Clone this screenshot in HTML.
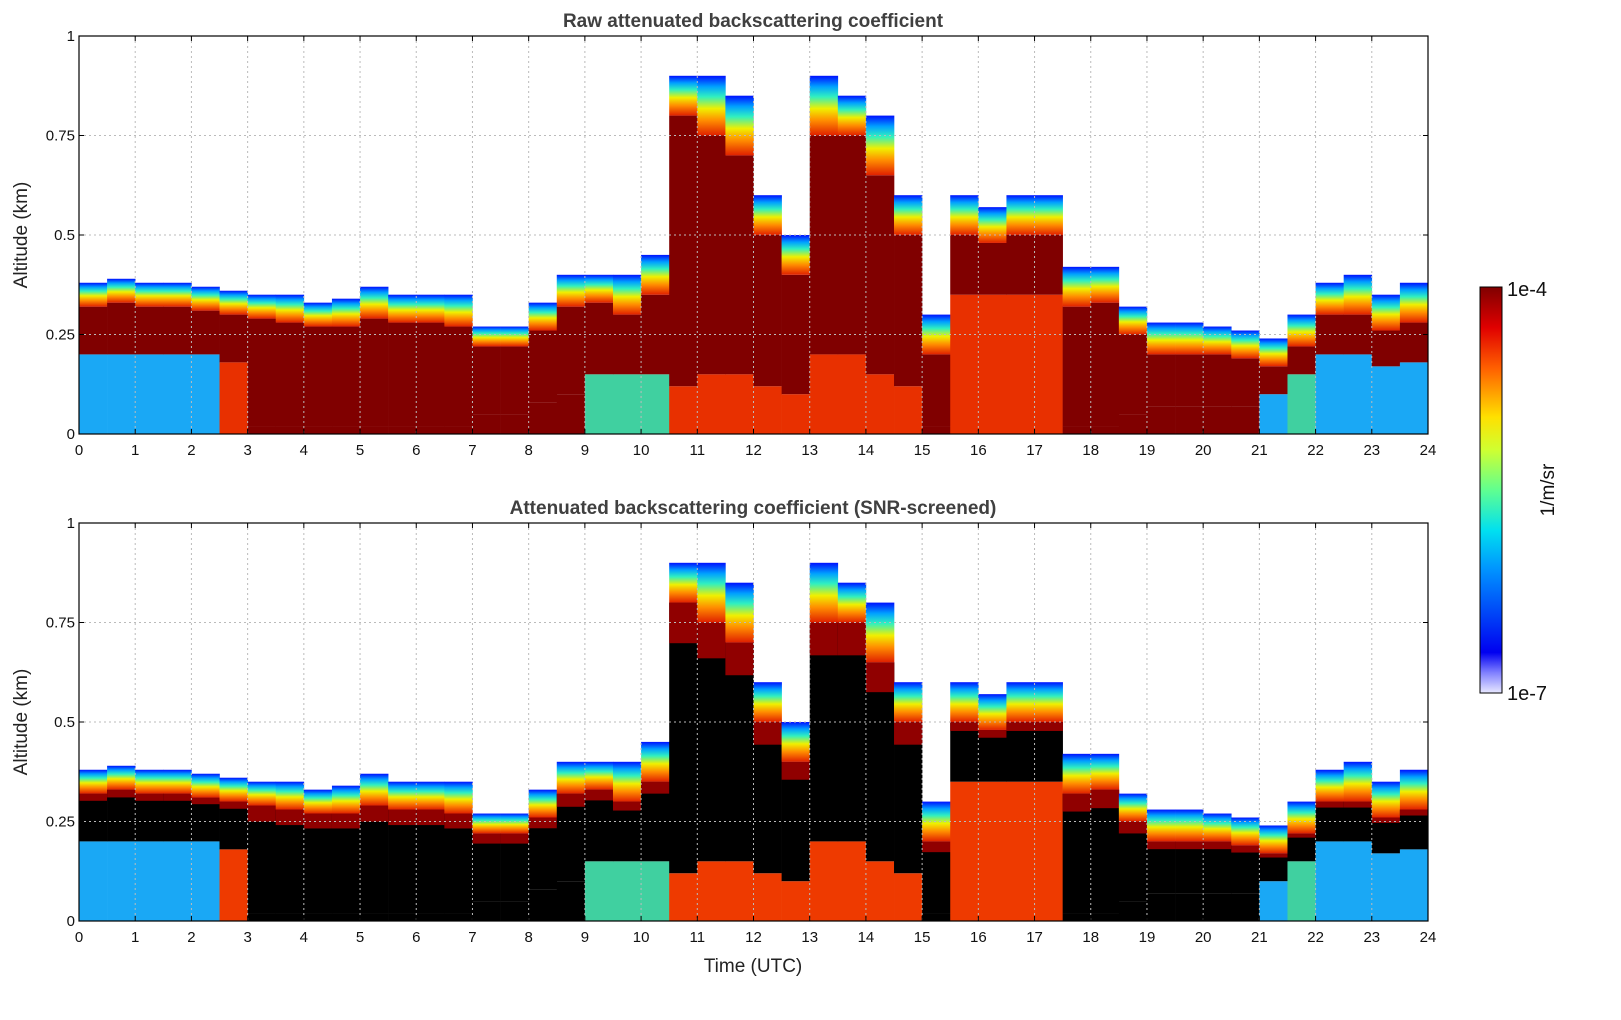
<!DOCTYPE html>
<html><head><meta charset="utf-8"><style>
html,body{margin:0;padding:0;width:1621px;height:1020px;overflow:hidden;background:#fff;font-family:"Liberation Sans","DejaVu Sans",sans-serif;}
svg{display:block;position:absolute;left:0;top:0}
</style></head><body>
<svg id="fig" width="1621" height="1020" viewBox="0 0 1621 1020" xmlns="http://www.w3.org/2000/svg">
<defs>
<linearGradient id="fringe" x1="0" y1="1" x2="0" y2="0">
<stop offset="0" stop-color="#e02000"/><stop offset="0.25" stop-color="#ff8c00"/><stop offset="0.45" stop-color="#f0f000"/><stop offset="0.65" stop-color="#30f0c0"/><stop offset="0.82" stop-color="#00a0ff"/><stop offset="1" stop-color="#0010ff"/>
</linearGradient>
<linearGradient id="cbar" x1="0" y1="1" x2="0" y2="0">
<stop offset="0" stop-color="#e8e8ff"/><stop offset="0.05" stop-color="#8080ff"/><stop offset="0.1" stop-color="#0000f0"/><stop offset="0.3" stop-color="#0090ff"/><stop offset="0.4" stop-color="#00e0f0"/><stop offset="0.5" stop-color="#60ff90"/><stop offset="0.6" stop-color="#d0ff30"/><stop offset="0.68" stop-color="#ffe000"/><stop offset="0.8" stop-color="#ff6000"/><stop offset="0.9" stop-color="#e00000"/><stop offset="1" stop-color="#800000"/>
</linearGradient>
</defs>
<g id="panels"></g>
<text x="753" y="27" text-anchor="middle" font-size="19" font-weight="bold" fill="#404040">Raw attenuated backscattering coefficient</text>
<text x="753" y="514" text-anchor="middle" font-size="19" font-weight="bold" fill="#404040">Attenuated backscattering coefficient (SNR-screened)</text>
<text x="753" y="972" text-anchor="middle" font-size="19" fill="#222">Time (UTC)</text>
<text transform="translate(27,235) rotate(-90)" text-anchor="middle" font-size="19" fill="#222">Altitude (km)</text>
<text transform="translate(27,722) rotate(-90)" text-anchor="middle" font-size="19" fill="#222">Altitude (km)</text>
<g>
<rect x="1480" y="287" width="22" height="406" fill="url(#cbar)" stroke="#000" stroke-width="1"/>
<text x="1507" y="296" font-size="20" fill="#111">1e-4</text>
<text x="1507" y="700" font-size="20" fill="#111">1e-7</text>
<text transform="translate(1554,490) rotate(-90)" text-anchor="middle" font-size="19" fill="#111">1/m/sr</text>
</g>
</svg>
<script>
// half-hour bins, 0..23.5 h
const times=[0,0.5,1,1.5,2,2.5,3,3.5,4,4.5,5,5.5,6,6.5,7,7.5,8,8.5,9,9.5,10,10.5,11,11.5,12,12.5,13,13.5,14,14.5,15,15.5,16,16.5,17,17.5,18,18.5,19,19.5,20,20.5,21,21.5,22,22.5,23,23.5];
const layerTop=[0.38,0.39,0.38,0.38,0.37,0.36,0.35,0.35,0.33,0.34,0.37,0.35,0.35,0.35,0.27,0.27,0.33,0.4,0.4,0.4,0.45,0.9,0.9,0.85,0.6,0.5,0.9,0.85,0.8,0.6,0.3,0.6,0.57,0.6,0.6,0.42,0.42,0.32,0.28,0.28,0.27,0.26,0.24,0.3,0.38,0.4,0.35,0.38];
const coreTop=[0.32,0.33,0.32,0.32,0.31,0.3,0.29,0.28,0.27,0.27,0.29,0.28,0.28,0.27,0.22,0.22,0.26,0.32,0.33,0.3,0.35,0.8,0.75,0.7,0.5,0.4,0.75,0.75,0.65,0.5,0.2,0.5,0.48,0.5,0.5,0.32,0.33,0.25,0.2,0.2,0.2,0.19,0.17,0.22,0.3,0.3,0.26,0.28];
const coreBottom=[0.2,0.2,0.2,0.2,0.2,0.18,0.02,0.02,0.02,0.02,0.02,0.02,0.02,0.02,0.05,0.05,0.08,0.1,0.15,0.15,0.15,0.12,0.15,0.15,0.12,0.1,0.2,0.2,0.15,0.12,0.02,0.35,0.35,0.35,0.35,0.02,0.02,0.05,0.07,0.07,0.07,0.07,0.1,0.15,0.2,0.2,0.17,0.18];
// below-layer class: 0 cyan, 1 dark, 2 red, 3 green/yellow mix
const belowType=[0,0,0,0,0,2,1,1,1,1,1,1,1,1,1,1,1,1,3,3,3,2,2,2,2,2,2,2,2,2,1,2,2,2,2,1,1,1,1,1,1,1,0,3,0,0,0,0];
const xTicks=[0,1,2,3,4,5,6,7,8,9,10,11,12,13,14,15,16,17,18,19,20,21,22,23,24];
const yTicks=[0,0.25,0.5,0.75,1];
const yTickLabels=['0','0.25','0.5','0.75','1'];

const NS='http://www.w3.org/2000/svg';
const X0=79,X1=1428;
const xs=h=>X0+(X1-X0)*h/24;
function mk(tag,attrs,parent){const e=document.createElementNS(NS,tag);for(const k in attrs)e.setAttribute(k,attrs[k]);parent.appendChild(e);return e;}
const root=document.getElementById('panels');
function panel(top,screened,name){
  const bottom=top+398;
  const ys=v=>bottom-398*v;
  const g=mk('g',{},root);
  
  
  const coreCol=screened?'#000000':'#800000';
  const belowCols=screened?['#1aa8f5','#000000','#ee3a00','#40d0a0']:['#1aa8f5','#800000','#e83000','#40d0a0'];
  times.forEach((t,i)=>{
    const xa=xs(t),w=Math.min(xs(t+0.5),X1)-xa+0.3;
    const c=mk('g',{},g);
    
    
    mk('rect',{x:xa,y:ys(coreBottom[i]),width:w,height:ys(0)-ys(coreBottom[i]),fill:belowCols[belowType[i]]},c);
    mk('rect',{x:xa,y:ys(coreTop[i]),width:w,height:ys(coreBottom[i])-ys(coreTop[i]),fill:coreCol},c);
    if(screened){mk('rect',{x:xa,y:ys(coreTop[i]),width:w,height:Math.max(0,(ys(coreBottom[i])-ys(coreTop[i]))*0.15),fill:'#900000'},c);}
    mk('rect',{x:xa,y:ys(layerTop[i]),width:w,height:ys(coreTop[i])-ys(layerTop[i]),fill:'url(#fringe)'},c);
  });
  xTicks.forEach(h=>{if(h>0&&h<24){const l=mk('line',{x1:xs(h),x2:xs(h),y1:top,y2:bottom,stroke:'#bbb','stroke-dasharray':'2,3','stroke-width':1},g);}});
  yTicks.forEach(v=>{if(v>0&&v<1){const l=mk('line',{x1:X0,x2:X1,y1:ys(v),y2:ys(v),stroke:'#bbb','stroke-dasharray':'2,3','stroke-width':1},g);}});
  const fr=mk('rect',{x:X0,y:top,width:X1-X0,height:398,fill:'none',stroke:'#000','stroke-width':1.2},g);
  
  xTicks.forEach(h=>{
    mk('line',{x1:xs(h),x2:xs(h),y1:bottom,y2:bottom-5,stroke:'#000'},g);
    mk('line',{x1:xs(h),x2:xs(h),y1:top,y2:top+5,stroke:'#000'},g);
    const tx=mk('text',{x:xs(h),y:bottom+21,'text-anchor':'middle','font-size':15,fill:'#111'},g);
    tx.textContent=h;
    
  });
  yTicks.forEach((v,k)=>{
    mk('line',{x1:X0,x2:X0+5,y1:ys(v),y2:ys(v),stroke:'#000'},g);
    mk('line',{x1:X1,x2:X1-5,y1:ys(v),y2:ys(v),stroke:'#000'},g);
    const tx=mk('text',{x:X0-4,y:ys(v)+5,'text-anchor':'end','font-size':15,fill:'#111'},g);
    tx.textContent=yTickLabels[k];
    
  });
}
panel(36,false,'raw-backscatter-panel');
panel(523,true,'screened-backscatter-panel');
</script>
</body></html>
